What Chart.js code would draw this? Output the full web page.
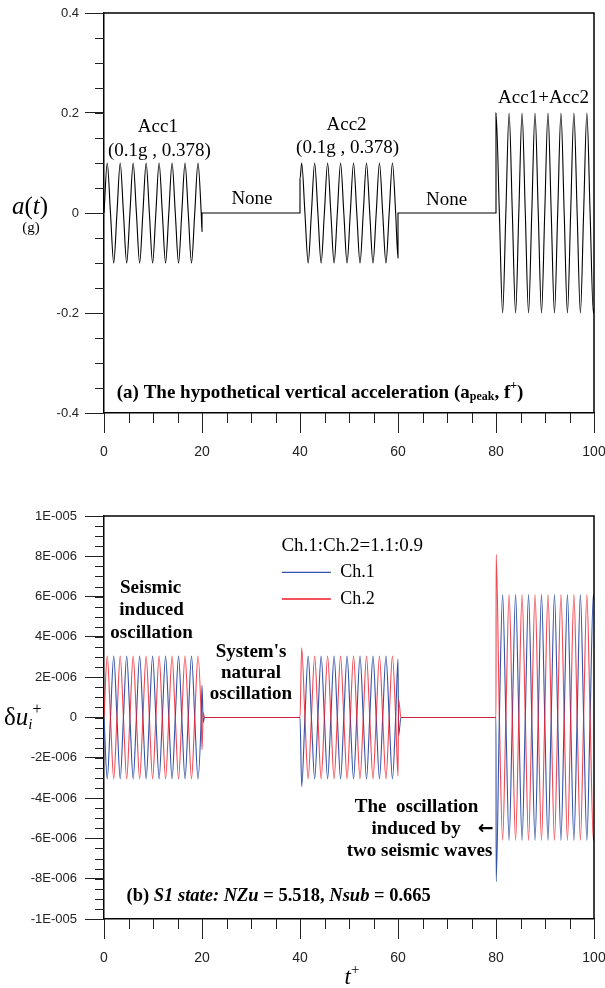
<!DOCTYPE html>
<html><head><meta charset="utf-8">
<script src="https://cdn.jsdelivr.net/npm/chart.js@4.4.1/dist/chart.umd.min.js"></script>
<style>
html,body{margin:0;padding:0;background:#fff;}
#wrap{position:relative;width:605px;height:988px;overflow:hidden;background:#fff;}
canvas{position:absolute;left:0;}
#c1{top:0;} #c2{top:480px;}
</style></head><body>
<div id="wrap"><canvas id="c1" width="605" height="470"></canvas><canvas id="c2" width="605" height="508"></canvas></div>
<script>
// ---------- data ----------
const xTickValues = [0, 20, 40, 60, 80, 100];
const xTickLabels = ['0', '20', '40', '60', '80', '100'];
const accTickValues = [-0.4, -0.2, 0, 0.2, 0.4];
const accTickLabels = ['-0.4', '-0.2', '0', '0.2', '0.4'];
const duTickValues = [-1e-5, -8e-6, -6e-6, -4e-6, -2e-6, 0, 2e-6, 4e-6, 6e-6, 8e-6, 1e-5];
const duTickLabels = ['-1E-005', '-8E-006', '-6E-006', '-4E-006', '-2E-006', '0', '2E-006', '4E-006', '6E-006', '8E-006', '1E-005'];

// (a) acceleration a(t) [g] read at peaks / zero crossings
const accTime = [0, 0.661, 1.323, 1.984, 2.646, 3.307, 3.968, 4.630, 5.291, 5.952, 6.614, 7.275, 7.937, 8.598, 9.259, 9.921, 10.582, 11.243, 11.905, 12.566, 13.228, 13.889, 14.550, 15.212, 15.873, 16.534, 17.196, 17.857, 18.519, 19.180, 19.841,
  20, 20, 40, 40,
  40.344, 41.005, 41.667, 42.328, 42.989, 43.651, 44.312, 44.974, 45.635, 46.296, 46.958, 47.619, 48.280, 48.942, 49.603, 50.265, 50.926, 51.587, 52.249, 52.910, 53.571, 54.233, 54.894, 55.556, 56.217, 56.878, 57.540, 58.201, 58.862, 59.524,
  60, 60, 80, 80,
  80.688, 81.349, 82.011, 82.672, 83.333, 83.995, 84.656, 85.317, 85.979, 86.640, 87.302, 87.963, 88.624, 89.286, 89.947, 90.608, 91.270, 91.931, 92.593, 93.254, 93.915, 94.577, 95.238, 95.899, 96.561, 97.222, 97.884, 98.545, 99.206, 99.868,
  100];
const accValue = [0, 0.1, 0, -0.1, 0, 0.1, 0, -0.1, 0, 0.1, 0, -0.1, 0, 0.1, 0, -0.1, 0, 0.1, 0, -0.1, 0, 0.1, 0, -0.1, 0, 0.1, 0, -0.1, 0, 0.1, 0,
  -0.037, 0, 0, 0.068,
  0.1, 0, -0.1, 0, 0.1, 0, -0.1, 0, 0.1, 0, -0.1, 0, 0.1, 0, -0.1, 0, 0.1, 0, -0.1, 0, 0.1, 0, -0.1, 0, 0.1, 0, -0.1, 0, 0.1, 0,
  -0.090, 0, 0, 0.2,
  0, -0.2, 0, 0.2, 0, -0.2, 0, 0.2, 0, -0.2, 0, 0.2, 0, -0.2, 0, 0.2, 0, -0.2, 0, 0.2, 0, -0.2, 0, 0.2, 0, -0.2, 0, 0.2, 0, -0.2,
  -0.190];

// (b) displacement response of the two channels
const duTime = [0, 0.661, 1.323, 1.984, 2.646, 3.307, 3.968, 4.630, 5.291, 5.952, 6.614, 7.275, 7.937, 8.598, 9.259, 9.921, 10.582, 11.243, 11.905, 12.566, 13.228, 13.889, 14.550, 15.212, 15.873, 16.534, 17.196, 17.857, 18.519, 19.180, 19.841,
  20, 20.25, 20.5, 40,
  40.344,
  41.005, 41.667, 42.328, 42.989, 43.651, 44.312, 44.974, 45.635, 46.296, 46.958, 47.619, 48.280, 48.942, 49.603, 50.265, 50.926, 51.587, 52.249, 52.910, 53.571, 54.233, 54.894, 55.556, 56.217, 56.878, 57.540, 58.201, 58.862, 59.524,
  60, 60.12, 60.6, 80,
  80.03,
  80.688, 81.349, 82.011, 82.672, 83.333, 83.995, 84.656, 85.317, 85.979, 86.640, 87.302, 87.963, 88.624, 89.286, 89.947, 90.608, 91.270, 91.931, 92.593, 93.254, 93.915, 94.577, 95.238, 95.899, 96.561, 97.222, 97.884, 98.545, 99.206, 99.868,
  100];
const ch1Value = [0, -3.05e-6, 0, 3.05e-6, 0, -3.05e-6, 0, 3.05e-6, 0, -3.05e-6, 0, 3.05e-6, 0, -3.05e-6, 0, 3.05e-6, 0, -3.05e-6, 0, 3.05e-6, 0, -3.05e-6, 0, 3.05e-6, 0, -3.05e-6, 0, 3.05e-6, 0, -3.05e-6, 0,
  1.6e-6, -0.25e-6, 0, 0,
  -3.43e-6,
  0, 3.05e-6, 0, -3.05e-6, 0, 3.05e-6, 0, -3.05e-6, 0, 3.05e-6, 0, -3.05e-6, 0, 3.05e-6, 0, -3.05e-6, 0, 3.05e-6, 0, -3.05e-6, 0, 3.05e-6, 0, -3.05e-6, 0, 3.05e-6, 0, -3.05e-6, 0,
  2.9e-6, -0.9e-6, 0, 0,
  -8.15e-6,
  0, 6.1e-6, 0, -6.1e-6, 0, 6.1e-6, 0, -6.1e-6, 0, 6.1e-6, 0, -6.1e-6, 0, 6.1e-6, 0, -6.1e-6, 0, 6.1e-6, 0, -6.1e-6, 0, 6.1e-6, 0, -6.1e-6, 0, 6.1e-6, 0, -6.1e-6, 0, 6.1e-6,
  5.8e-6];
const ch2Value = [0, 3.05e-6, 0, -3.05e-6, 0, 3.05e-6, 0, -3.05e-6, 0, 3.05e-6, 0, -3.05e-6, 0, 3.05e-6, 0, -3.05e-6, 0, 3.05e-6, 0, -3.05e-6, 0, 3.05e-6, 0, -3.05e-6, 0, 3.05e-6, 0, -3.05e-6, 0, 3.05e-6, 0,
  -1.6e-6, 0.25e-6, 0, 0,
  3.46e-6,
  0, -3.05e-6, 0, 3.05e-6, 0, -3.05e-6, 0, 3.05e-6, 0, -3.05e-6, 0, 3.05e-6, 0, -3.05e-6, 0, 3.05e-6, 0, -3.05e-6, 0, 3.05e-6, 0, -3.05e-6, 0, 3.05e-6, 0, -3.05e-6, 0, 3.05e-6, 0,
  -2.9e-6, 0.9e-6, 0, 0,
  8.1e-6,
  0, -6.1e-6, 0, 6.1e-6, 0, -6.1e-6, 0, 6.1e-6, 0, -6.1e-6, 0, 6.1e-6, 0, -6.1e-6, 0, 6.1e-6, 0, -6.1e-6, 0, 6.1e-6, 0, -6.1e-6, 0, 6.1e-6, 0, -6.1e-6, 0, 6.1e-6, 0, -6.1e-6,
  -5.8e-6];
const seriesNames = ['Ch.1', 'Ch.2'];

// ---------- styling / helpers ----------
const SERIF = '"Liberation Serif","Times New Roman",serif';
const SANS = '"Liberation Sans",Arial,sans-serif';
const BLUE = 'rgb(52,82,168)';
const RED = 'rgba(240,24,36,0.8)';
const f = (s, st) => (st || '') + ' ' + s + 'px ' + SERIF;

function rich(ctx, segs, x, y, align) {
  let w = 0;
  segs.forEach(s => { ctx.font = s.f; w += ctx.measureText(s.t).width; });
  let cx = align === 'center' ? x - w / 2 : align === 'right' ? x - w : x;
  segs.forEach(s => { ctx.font = s.f; ctx.fillText(s.t, cx, y + (s.dy || 0)); cx += ctx.measureText(s.t).width; });
}

const decor = {
  id: 'decor',
  afterDraw(chart, args, opts) {
    const ctx = chart.ctx, a = chart.chartArea, xs = chart.scales.x, ys = chart.scales.y;
    ctx.save();
    // frame (top and right)
    ctx.strokeStyle = '#000'; ctx.lineWidth = 1.5;
    ctx.beginPath(); ctx.moveTo(a.left, a.top); ctx.lineTo(a.right, a.top); ctx.lineTo(a.right, a.bottom); ctx.stroke();
    // minor ticks
    ctx.strokeStyle = '#222'; ctx.lineWidth = 1;
    ctx.beginPath();
    for (let v = xs.min; v <= xs.max + 1e-9; v += opts.xMinor) {
      const px = Math.round(xs.getPixelForValue(v)) + 0.5;
      ctx.moveTo(px, a.bottom); ctx.lineTo(px, a.bottom + 10);
    }
    const n = Math.round((ys.max - ys.min) / opts.yMinor);
    for (let i = 0; i <= n; i++) {
      const py = Math.round(ys.getPixelForValue(ys.min + i * opts.yMinor)) + 0.5;
      ctx.moveTo(a.left, py); ctx.lineTo(a.left - 9, py);
    }
    ctx.stroke();
    // texts
    ctx.fillStyle = '#000'; ctx.textBaseline = 'middle'; ctx.textAlign = 'left';
    (opts.texts || []).forEach(t => {
      const x = t.px !== undefined ? t.px : xs.getPixelForValue(t.x);
      const y = t.py !== undefined ? t.py : ys.getPixelForValue(t.y);
      rich(ctx, t.segs, x, y, t.align || 'center');
    });
    (opts.legend || []).forEach(l => {
      const y = ys.getPixelForValue(l.y);
      ctx.strokeStyle = l.color; ctx.lineWidth = 1.3;
      ctx.beginPath(); ctx.moveTo(xs.getPixelForValue(l.x1), y); ctx.lineTo(xs.getPixelForValue(l.x2), y); ctx.stroke();
      ctx.fillStyle = '#000';
      rich(ctx, [{ t: l.label, f: f(18) }], xs.getPixelForValue(l.tx), y, 'left');
    });
    ctx.restore();
  }
};

function scales(yMin, yMax, yVals, yLabels, xHeight, yPad) {
  return {
    x: {
      type: 'linear', min: 0, max: 100,
      afterBuildTicks: s => { s.ticks = xTickValues.map(v => ({ value: v })); },
      ticks: { callback: (v, i) => xTickLabels[i], font: { family: SANS, size: 14 }, color: '#222', padding: 11, maxRotation: 0, autoSkip: false },
      grid: { display: true, drawOnChartArea: false, drawTicks: true, tickLength: 20, tickColor: '#222', tickWidth: 1 },
      border: { display: true, color: '#000', width: 1.5 },
      afterFit: s => { s.height = xHeight; s.paddingLeft = 0; s.paddingRight = 0; }
    },
    y: {
      type: 'linear', min: yMin, max: yMax,
      afterBuildTicks: s => { s.ticks = yVals.map(v => ({ value: v })); },
      ticks: { callback: (v, i) => yLabels[i], font: { family: SANS, size: 13 }, color: '#222', padding: yPad, autoSkip: false },
      grid: { display: true, drawOnChartArea: false, drawTicks: true, tickLength: 19, tickColor: '#222', tickWidth: 1 },
      border: { display: true, color: '#000', width: 1.5 },
      afterFit: s => { s.width = 104; s.paddingTop = 0; s.paddingBottom = 0; }
    }
  };
}

const common = {
  responsive: false, animation: false, devicePixelRatio: 1,
  elements: { point: { radius: 0 }, line: { cubicInterpolationMode: 'monotone', borderWidth: 1 } },
  plugins: { legend: { display: false }, tooltip: { enabled: false } }
};

// ---------- chart (a) ----------
new Chart(document.getElementById('c1'), {
  type: 'line',
  data: { datasets: [{ label: 'a(t)', data: accTime.map((t, i) => ({ x: t, y: accValue[i] })), borderColor: '#000', borderWidth: 1.1 }] },
  options: Object.assign({}, common, {
    layout: { autoPadding: false, padding: { top: 13, right: 11, left: 0, bottom: 0 } },
    scales: scales(-0.4, 0.4, accTickValues, accTickLabels, 57, 6),
    plugins: Object.assign({}, common.plugins, {
      decor: {
        xMinor: 5, yMinor: 0.05,
        texts: [
          { x: 11.0, y: 0.172, segs: [{ t: 'Acc1', f: f(19) }] },
          { x: 11.3, y: 0.124, segs: [{ t: '(0.1g , 0.378)', f: f(19) }] },
          { x: 30.2, y: 0.028, segs: [{ t: 'None', f: f(19) }] },
          { x: 49.5, y: 0.176, segs: [{ t: 'Acc2', f: f(19) }] },
          { x: 49.7, y: 0.130, segs: [{ t: '(0.1g , 0.378)', f: f(19) }] },
          { x: 69.9, y: 0.026, segs: [{ t: 'None', f: f(19) }] },
          { x: 89.7, y: 0.229, segs: [{ t: 'Acc1+Acc2', f: f(19) }] },
          { x: 2.6, y: -0.36, align: 'left', segs: [
            { t: '(a) The hypothetical vertical acceleration (a', f: f(19, 'bold') },
            { t: 'peak', f: f(12, 'bold'), dy: 4 },
            { t: ', f', f: f(19, 'bold') },
            { t: '+', f: f(12, 'bold'), dy: -7 },
            { t: ')', f: f(19, 'bold') }] },
          { px: 30, py: 207, segs: [{ t: 'a', f: f(25, 'italic') }, { t: '(', f: f(25) }, { t: 't', f: f(25, 'italic') }, { t: ')', f: f(25) }] },
          { px: 31, py: 228, segs: [{ t: '(g)', f: f(15) }] }
        ]
      }
    })
  }),
  plugins: [decor]
});

// ---------- chart (b) ----------
new Chart(document.getElementById('c2'), {
  type: 'line',
  data: { datasets: [
    { label: seriesNames[0], order: 1, data: duTime.map((t, i) => ({ x: t, y: ch1Value[i] })), borderColor: BLUE, borderWidth: 1.1 },
    { label: seriesNames[1], order: 0, data: duTime.map((t, i) => ({ x: t, y: ch2Value[i] })), borderColor: RED, borderWidth: 1.1 }
  ] },
  options: Object.assign({}, common, {
    layout: { autoPadding: false, padding: { top: 36, right: 11, left: 0, bottom: 0 } },
    scales: scales(-1e-5, 1e-5, duTickValues, duTickLabels, 69, 8),
    plugins: Object.assign({}, common.plugins, {
      decor: {
        xMinor: 5, yMinor: 5e-7,
        legend: [
          { x1: 36.3, x2: 46.3, tx: 48.2, y: 7.2e-6, color: BLUE, label: seriesNames[0] },
          { x1: 36.3, x2: 46.3, tx: 48.2, y: 5.88e-6, color: 'rgb(240,24,36)', label: seriesNames[1] }
        ],
        texts: [
          { x: 36.2, y: 8.5e-6, align: 'left', segs: [{ t: 'Ch.1:Ch.2=1.1:0.9', f: f(19) }] },
          { x: 9.5, y: 6.41e-6, segs: [{ t: 'Seismic', f: f(19, 'bold') }] },
          { x: 9.7, y: 5.33e-6, segs: [{ t: 'induced', f: f(19, 'bold') }] },
          { x: 9.7, y: 4.21e-6, segs: [{ t: 'oscillation', f: f(19, 'bold') }] },
          { x: 30.0, y: 3.27e-6, segs: [{ t: "System's", f: f(19, 'bold') }] },
          { x: 30.0, y: 2.22e-6, segs: [{ t: 'natural', f: f(19, 'bold') }] },
          { x: 30.0, y: 1.17e-6, segs: [{ t: 'oscillation', f: f(19, 'bold') }] },
          { x: 63.8, y: -4.46e-6, segs: [{ t: 'The  oscillation', f: f(19, 'bold') }] },
          { x: 63.7, y: -5.55e-6, segs: [{ t: 'induced by', f: f(19, 'bold') }] },
          { x: 77.9, y: -5.55e-6, segs: [{ t: '\u2190', f: 'bold 19px "DejaVu Sans",sans-serif' }] },
          { x: 64.4, y: -6.61e-6, segs: [{ t: 'two seismic waves', f: f(19, 'bold') }] },
          { x: 4.6, y: -8.86e-6, align: 'left', segs: [
            { t: '(b) ', f: f(18.5, 'bold') },
            { t: 'S1 state:', f: f(18.5, 'italic bold') },
            { t: ' ', f: f(18.5, 'bold') },
            { t: 'NZu', f: f(18.5, 'italic bold') },
            { t: ' = 5.518, ', f: f(18.5, 'bold') },
            { t: 'Nsub', f: f(18.5, 'italic bold') },
            { t: ' = 0.665', f: f(18.5, 'bold') }] },
          { px: 4, py: 238, align: 'left', segs: [{ t: '\u03b4', f: f(25) }, { t: 'u', f: f(25, 'italic') }, { t: 'i', f: f(15, 'italic'), dy: 7 }, { t: '+', f: f(16), dy: -8 }] },
          { px: 352, py: 498, segs: [{ t: 't', f: f(23, 'italic') }, { t: '+', f: f(15), dy: -8 }] }
        ]
      }
    })
  }),
  plugins: [decor]
});
</script>
</body></html>
